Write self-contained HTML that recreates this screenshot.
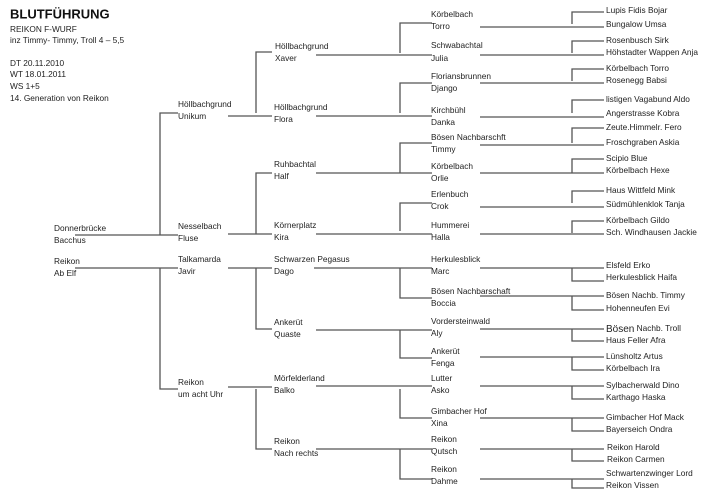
<!DOCTYPE html>
<html><head><meta charset="utf-8"><style>
html,body{margin:0;padding:0;background:#fff;width:725px;height:502px;overflow:hidden}
text{font-family:"Liberation Sans",sans-serif;font-size:8.3px;fill:#222;dominant-baseline:middle}
line,polyline{stroke:#555;stroke-width:1.3;fill:none}
</style></head><body>
<svg width="725" height="502" xmlns="http://www.w3.org/2000/svg">
<text x="10" y="15" style="font-size:13px;font-weight:bold;fill:#111">BLUTFÜHRUNG</text>
<text x="10" y="30">REIKON F-WURF</text>
<text x="10" y="41">inz Timmy- Timmy, Troll 4 – 5,5</text>
<text x="10" y="64">DT 20.11.2010</text>
<text x="10" y="75">WT 18.01.2011</text>
<text x="10" y="87">WS  1+5</text>
<text x="10" y="99">14. Generation von Reikon</text>

<!-- gen1 -->
<text x="54" y="229">Donnerbrücke</text><text x="54" y="241">Bacchus</text>
<text x="54" y="262">Reikon</text><text x="54" y="274">Ab Elf</text>
<line x1="75" y1="235" x2="178" y2="235"/>
<line x1="75" y1="268" x2="178" y2="268"/>
<polyline points="160,235 160,113 178,113"/>
<polyline points="160,268 160,389 178,389"/>

<!-- gen2 -->
<text x="178" y="105">Höllbachgrund</text><text x="178" y="117">Unikum</text>
<text x="178" y="227">Nesselbach</text><text x="178" y="239">Fluse</text>
<text x="178" y="260">Talkamarda</text><text x="178" y="272">Javir</text>
<text x="178" y="383">Reikon</text><text x="178" y="395">um acht Uhr</text>
<line x1="228" y1="116" x2="272" y2="116"/><polyline points="256,113 256,52 272,52"/>
<line x1="228" y1="234" x2="272" y2="234"/><polyline points="256,234 256,173 272,173"/>
<line x1="228" y1="268" x2="272" y2="268"/><polyline points="256,268 256,329 272,329"/>
<line x1="228" y1="387" x2="272" y2="387"/><polyline points="256,389 256,449 272,449"/>

<!-- gen3 -->
<text x="275" y="47">Höllbachgrund</text><text x="275" y="59">Xaver</text>
<text x="274" y="108">Höllbachgrund</text><text x="274" y="120">Flora</text>
<text x="274" y="165">Ruhbachtal</text><text x="274" y="177">Half</text>
<text x="274" y="226">Körnerplatz</text><text x="274" y="238">Kira</text>
<text x="274" y="260">Schwarzen Pegasus</text><text x="274" y="272">Dago</text>
<text x="274" y="323">Ankerüt</text><text x="274" y="335">Quaste</text>
<text x="274" y="379">Mörfelderland</text><text x="274" y="391">Balko</text>
<text x="274" y="442">Reikon</text><text x="274" y="454">Nach rechts</text>
<line x1="316" y1="55" x2="432" y2="55"/><polyline points="400,53 400,23 432,23"/>
<line x1="316" y1="116" x2="432" y2="116"/><polyline points="400,113 400,83 432,83"/>
<line x1="316" y1="173" x2="432" y2="173"/><polyline points="400,173 400,143 432,143"/>
<line x1="316" y1="234" x2="432" y2="234"/><polyline points="400,231 400,203 432,203"/>
<line x1="314" y1="268" x2="432" y2="268"/><polyline points="400,268 400,298 432,298"/>
<line x1="316" y1="330" x2="432" y2="330"/><polyline points="400,330 400,358 432,358"/>
<line x1="316" y1="386" x2="432" y2="386"/><polyline points="400,389 400,418 432,418"/>
<line x1="316" y1="449" x2="432" y2="449"/><polyline points="400,449 400,479 432,479"/>

<!-- gen4 -->
<text x="431" y="15">Körbelbach</text><text x="431" y="27">Torro</text>
<text x="431" y="46">Schwabachtal</text><text x="431" y="59">Julia</text>
<text x="431" y="77">Floriansbrunnen</text><text x="431" y="89">Django</text>
<text x="431" y="111">Kirchbühl</text><text x="431" y="123">Danka</text>
<text x="431" y="138">Bösen Nachbarschft</text><text x="431" y="150">Timmy</text>
<text x="431" y="167">Körbelbach</text><text x="431" y="179">Orlie</text>
<text x="431" y="195">Erlenbuch</text><text x="431" y="207">Crok</text>
<text x="431" y="226">Hummerei</text><text x="431" y="238">Halla</text>
<text x="431" y="260">Herkulesblick</text><text x="431" y="272">Marc</text>
<text x="431" y="292">Bösen Nachbarschaft</text><text x="431" y="304">Boccia</text>
<text x="431" y="322">Vordersteinwald</text><text x="431" y="334">Aly</text>
<text x="431" y="352">Ankerüt</text><text x="431" y="364">Fenga</text>
<text x="431" y="379">Lutter</text><text x="431" y="391">Asko</text>
<text x="431" y="412">Gimbacher Hof</text><text x="431" y="424">Xina</text>
<text x="431" y="440">Reikon</text><text x="431" y="452">Qutsch</text>
<text x="431" y="470">Reikon</text><text x="431" y="482">Dahme</text>

<line x1="480" y1="27" x2="604" y2="27"/><polyline points="572,24 572,12 604,12"/>
<line x1="480" y1="55" x2="604" y2="55"/><polyline points="572,53 572,41 604,41"/>
<line x1="480" y1="83" x2="604" y2="83"/><polyline points="572,81 572,69 604,69"/>
<line x1="480" y1="117" x2="604" y2="117"/><polyline points="572,113 572,100 604,100"/>
<line x1="480" y1="145" x2="604" y2="145"/><polyline points="572,143 572,128 604,128"/>
<line x1="480" y1="173" x2="604" y2="173"/><polyline points="572,173 572,159 604,159"/>
<line x1="480" y1="207" x2="604" y2="207"/><polyline points="572,203 572,191 604,191"/>
<line x1="480" y1="234" x2="604" y2="234"/><polyline points="572,233 572,221 604,221"/>

<line x1="480" y1="268" x2="604" y2="268"/><polyline points="572,268 572,281 604,281"/>
<line x1="480" y1="296" x2="604" y2="296"/><polyline points="572,296 572,310 604,310"/>
<line x1="480" y1="329" x2="604" y2="329"/><polyline points="572,329 572,341 604,341"/>
<line x1="480" y1="357" x2="604" y2="357"/><polyline points="572,357 572,370 604,370"/>
<line x1="480" y1="386" x2="604" y2="386"/><polyline points="572,386 572,399 604,399"/>
<line x1="480" y1="418" x2="604" y2="418"/><polyline points="572,418 572,431 604,431"/>
<line x1="480" y1="449" x2="604" y2="449"/><polyline points="572,449 572,461 604,461"/>
<line x1="480" y1="479" x2="604" y2="479"/><polyline points="572,479 572,488 604,488"/>

<!-- gen5 -->
<text x="606" y="11">Lupis Fidis Bojar</text><text x="606" y="25">Bungalow Umsa</text>
<text x="606" y="41">Rosenbusch Sirk</text><text x="606" y="53">Höhstadter Wappen Anja</text>
<text x="606" y="69">Körbelbach Torro</text><text x="606" y="81">Rosenegg Babsi</text>
<text x="606" y="100">listigen Vagabund Aldo</text><text x="606" y="114">Angerstrasse Kobra</text>
<text x="606" y="128">Zeute.Himmelr. Fero</text><text x="606" y="143">Froschgraben Askia</text>
<text x="606" y="159">Scipio Blue</text><text x="606" y="171">Körbelbach Hexe</text>
<text x="606" y="191">Haus Wittfeld Mink</text><text x="606" y="205">Südmühlenklok Tanja</text>
<text x="606" y="221">Körbelbach Gildo</text><text x="606" y="233">Sch. Windhausen Jackie</text>
<text x="606" y="266">Elsfeld Erko</text><text x="606" y="278">Herkulesblick Haifa</text>
<text x="606" y="296">Bösen Nachb. Timmy</text><text x="606" y="309">Hohenneufen Evi</text>
<text x="606" y="329"><tspan style="font-size:10px">Bösen</tspan> Nachb. Troll</text><text x="606" y="341">Haus Feller Afra</text>
<text x="606" y="357">Lünsholtz Artus</text><text x="606" y="369">Körbelbach Ira</text>
<text x="606" y="386">Sylbacherwald Dino</text><text x="606" y="398">Karthago Haska</text>
<text x="606" y="418">Gimbacher Hof Mack</text><text x="606" y="430">Bayerseich Ondra</text>
<text x="607" y="448">Reikon Harold</text><text x="607" y="460">Reikon Carmen</text>
<text x="606" y="474">Schwartenzwinger Lord</text><text x="606" y="486">Reikon Vissen</text>
</svg>
</body></html>
